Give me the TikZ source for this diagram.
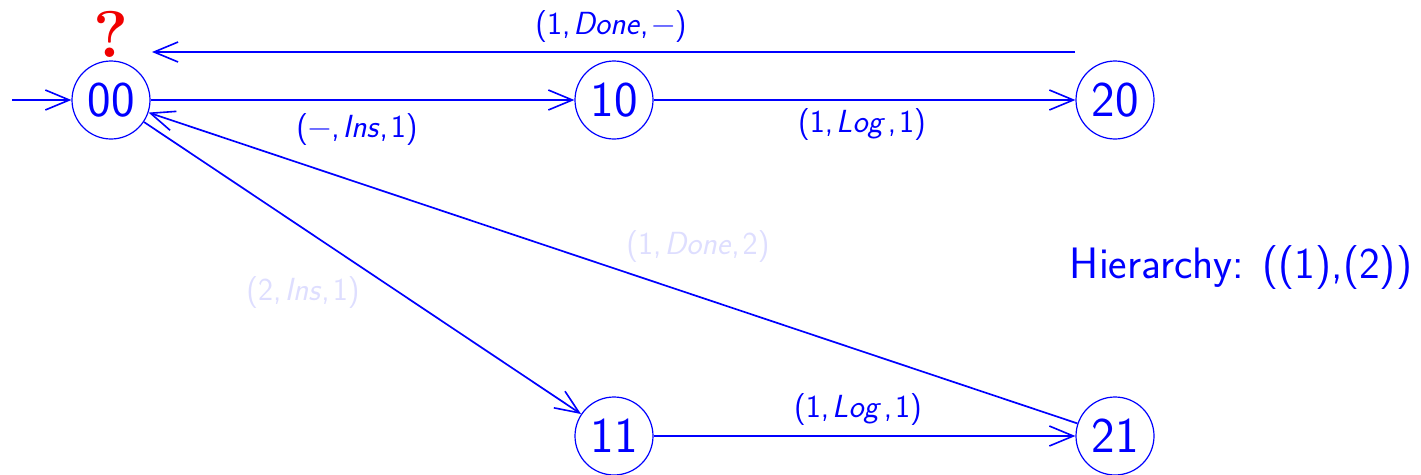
\documentclass[tikz,border=0pt]{standalone}
\usepackage{fontspec}
\usetikzlibrary{arrows.meta}
\definecolor{pureblue}{RGB}{0,0,255}
\definecolor{faintblue}{RGB}{222,222,255}
\definecolor{qred}{RGB}{240,0,0}
\newcommand{\cm}{,\kern3pt}
\begin{document}
\begin{tikzpicture}[x=1pt,y=-1pt,
  state/.style={circle, draw=pureblue, line width=1.2pt, minimum size=78pt, inner sep=0pt,
    text=pureblue, font=\sffamily\fontsize{50}{50}\selectfont},
  edge/.style={draw=pureblue, line width=1.7pt,
    -{Straight Barb[length=24pt,width=20pt,line width=1.6pt]}},
  lab/.style={text=pureblue, inner sep=0pt, font=\sffamily\fontsize{32}{32}\selectfont},
  faintlab/.style={lab, text=faintblue},
  hier/.style={text=pureblue, inner sep=0pt, font=\sffamily\fontsize{44}{44}\selectfont},
  qmark/.style={text=qred, inner sep=0pt, font=\rmfamily\bfseries\fontsize{66}{66}\selectfont}]
\useasboundingbox (0,0) rectangle (1421,474);

\node[state] (n00) at (111,100) {00};
\node[state] (n10) at (614,100) {10};
\node[state] (n20) at (1115,100) {20};
\node[state] (n11) at (614,436) {11};
\node[state] (n21) at (1115,436) {21};

\node[qmark] (q) at (111,34) {?};

\coordinate (init) at (12,100);
\coordinate (t20) at (1075,52);
\coordinate (t00) at (152,52);

\draw[edge] (init) -- (n00);
\draw[edge] (n00) -- (n10);
\draw[edge] (n10) -- (n20);
\draw[edge] (t20) -- (t00);
\draw[edge] (n00) -- (n11);
\draw[edge] (n21) -- (n00);
\draw[edge] (n11) -- (n21);

\node[lab] (l1) at (611,27) {(1\cm\textit{Done}\cm−)};
\node[lab] (l2) at (357,130) {(−\cm\textit{Ins}\cm1)};
\node[lab] (l3) at (862,125) {(1\cm\textit{Log}\kern3pt\cm1)};
\node[lab] (l4) at (858,410) {(1\cm\textit{Log}\kern3pt\cm1)};
\node[faintlab] (l5) at (303,293) {(2\cm\textit{Ins}\cm1)};
\node[faintlab] (l6) at (698,247) {(1\cm\textit{Done}\cm2)};
\node[hier] (h) at (1241,268) {Hierarchy: ((1),(2))};
\end{tikzpicture}
\end{document}
